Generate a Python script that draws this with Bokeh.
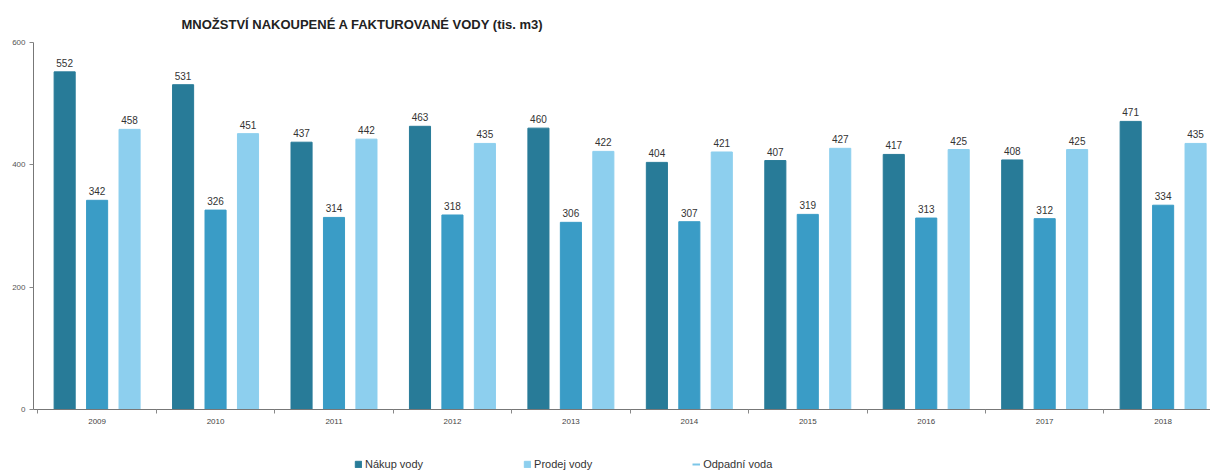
from bokeh.plotting import figure
from bokeh.layouts import column
from bokeh.models import (Range1d, FixedTicker, Legend, LegendItem, ColumnDataSource,
                          LabelSet, Title)
from bokeh.core.properties import value
from bokeh.embed import file_html
from bokeh.resources import INLINE

years = ["2009", "2010", "2011", "2012", "2013", "2014", "2015", "2016", "2017", "2018"]
nakup = [552, 531, 437, 463, 460, 404, 407, 417, 408, 471]
stredni = [342, 326, 314, 318, 306, 307, 319, 313, 312, 334]
prodej = [458, 451, 442, 435, 422, 421, 427, 425, 425, 435]
odpadni = [float("nan")]  # series not visible in the plotted area
y_ticks = [0, 200, 400, 600]

c_dark = "#287b98"
c_mid = "#3a9cc6"
c_light = "#8dcfee"
c_line = "#7cc6e8"

p = figure(frame_width=1177, frame_height=367, output_backend="svg", toolbar_location=None,
           x_range=Range1d(-0.037, 9.90), y_range=Range1d(0, 600),
           min_border_left=33, min_border_right=0, min_border_top=42, min_border_bottom=0)
p.title = Title(text="MNOŽSTVÍ NAKOUPENÉ A FAKTUROVANÉ VODY (tis. m3)", align="left",
                offset=148, text_font="Liberation Sans", text_font_size="13px",
                text_font_style="bold", text_color="#222222", standoff=22)
p.background_fill_color = "white"
p.outline_line_color = None
p.xgrid.grid_line_color = None
p.ygrid.grid_line_color = None

xc = [i + 0.5 for i in range(len(years))]
off = 0.274
bw = 0.178

src = ColumnDataSource(dict(
    x1=[x - off for x in xc], x2=xc, x3=[x + off for x in xc],
    a=nakup, b=stredni, c=prodej,
    la=[str(v) for v in nakup], lb=[str(v) for v in stredni], lc=[str(v) for v in prodej]))

p.vbar(x="x1", top="a", width=bw, color=c_dark, source=src)
p.vbar(x="x2", top="b", width=bw, color=c_mid, source=src)
p.vbar(x="x3", top="c", width=bw, color=c_light, source=src)
p.line(x=odpadni, y=odpadni, line_color=c_line, line_width=2)

for xcol, ycol, lcol in (("x1", "a", "la"), ("x2", "b", "lb"), ("x3", "c", "lc")):
    p.add_layout(LabelSet(x=xcol, y=ycol, text=lcol, source=src, y_offset=5,
                          text_align="center", text_baseline="bottom",
                          text_font=value("Liberation Sans"), text_font_size="10px",
                          text_color="#333333"))

p.xaxis.ticker = FixedTicker(ticks=xc, minor_ticks=list(range(0, 11)))
p.xaxis.major_label_overrides = {x: y for x, y in zip(xc, years)}
p.xaxis.major_tick_line_color = None
p.xaxis.minor_tick_out = 4
p.xaxis.minor_tick_in = 0
p.xaxis.minor_tick_line_color = "#888888"
p.xaxis.axis_line_color = "#777777"
p.xaxis.major_label_text_font = "Liberation Sans"
p.xaxis.major_label_text_font_size = "8px"
p.xaxis.major_label_text_color = "#444444"
p.xaxis.major_label_standoff = 3

p.yaxis.ticker = FixedTicker(ticks=y_ticks, minor_ticks=[])
p.yaxis.major_tick_out = 4
p.yaxis.major_tick_in = 0
p.yaxis.major_tick_line_color = "#888888"
p.yaxis.axis_line_color = "#777777"
p.yaxis.major_label_text_font = "Liberation Sans"
p.yaxis.major_label_text_font_size = "8px"
p.yaxis.major_label_text_color = "#555555"
p.yaxis.major_label_standoff = 4

# legend strip below the chart (same data, kept far out of its view)
lg = figure(frame_width=1177, frame_height=44, output_backend="svg", toolbar_location=None,
            x_range=Range1d(-0.037, 9.90), y_range=Range1d(2000, 2001),
            min_border_left=33, min_border_right=0, min_border_top=0, min_border_bottom=0)
lg.axis.visible = False
lg.grid.visible = False
lg.outline_line_color = None
g1 = lg.vbar(x="x1", top="a", width=bw, color=c_dark, source=src)
g3 = lg.vbar(x="x3", top="c", width=bw, color=c_light, source=src)
gl = lg.line(x=odpadni, y=odpadni, line_color=c_line, line_width=2)

legend = Legend(items=[LegendItem(label="Nákup vody", renderers=[g1]),
                       LegendItem(label="Prodej vody", renderers=[g3]),
                       LegendItem(label="Odpadní voda", renderers=[gl])],
                orientation="horizontal", location=(321, 0),
                label_text_font="Liberation Sans", label_text_font_size="11px",
                label_text_color="#333333", glyph_width=8, glyph_height=8,
                spacing=100, border_line_color=None, background_fill_alpha=0,
                margin=0, padding=0, label_standoff=3)
lg.add_layout(legend)

layout = column(p, lg, spacing=0)
open("out.html", "w").write(file_html(layout, INLINE))
